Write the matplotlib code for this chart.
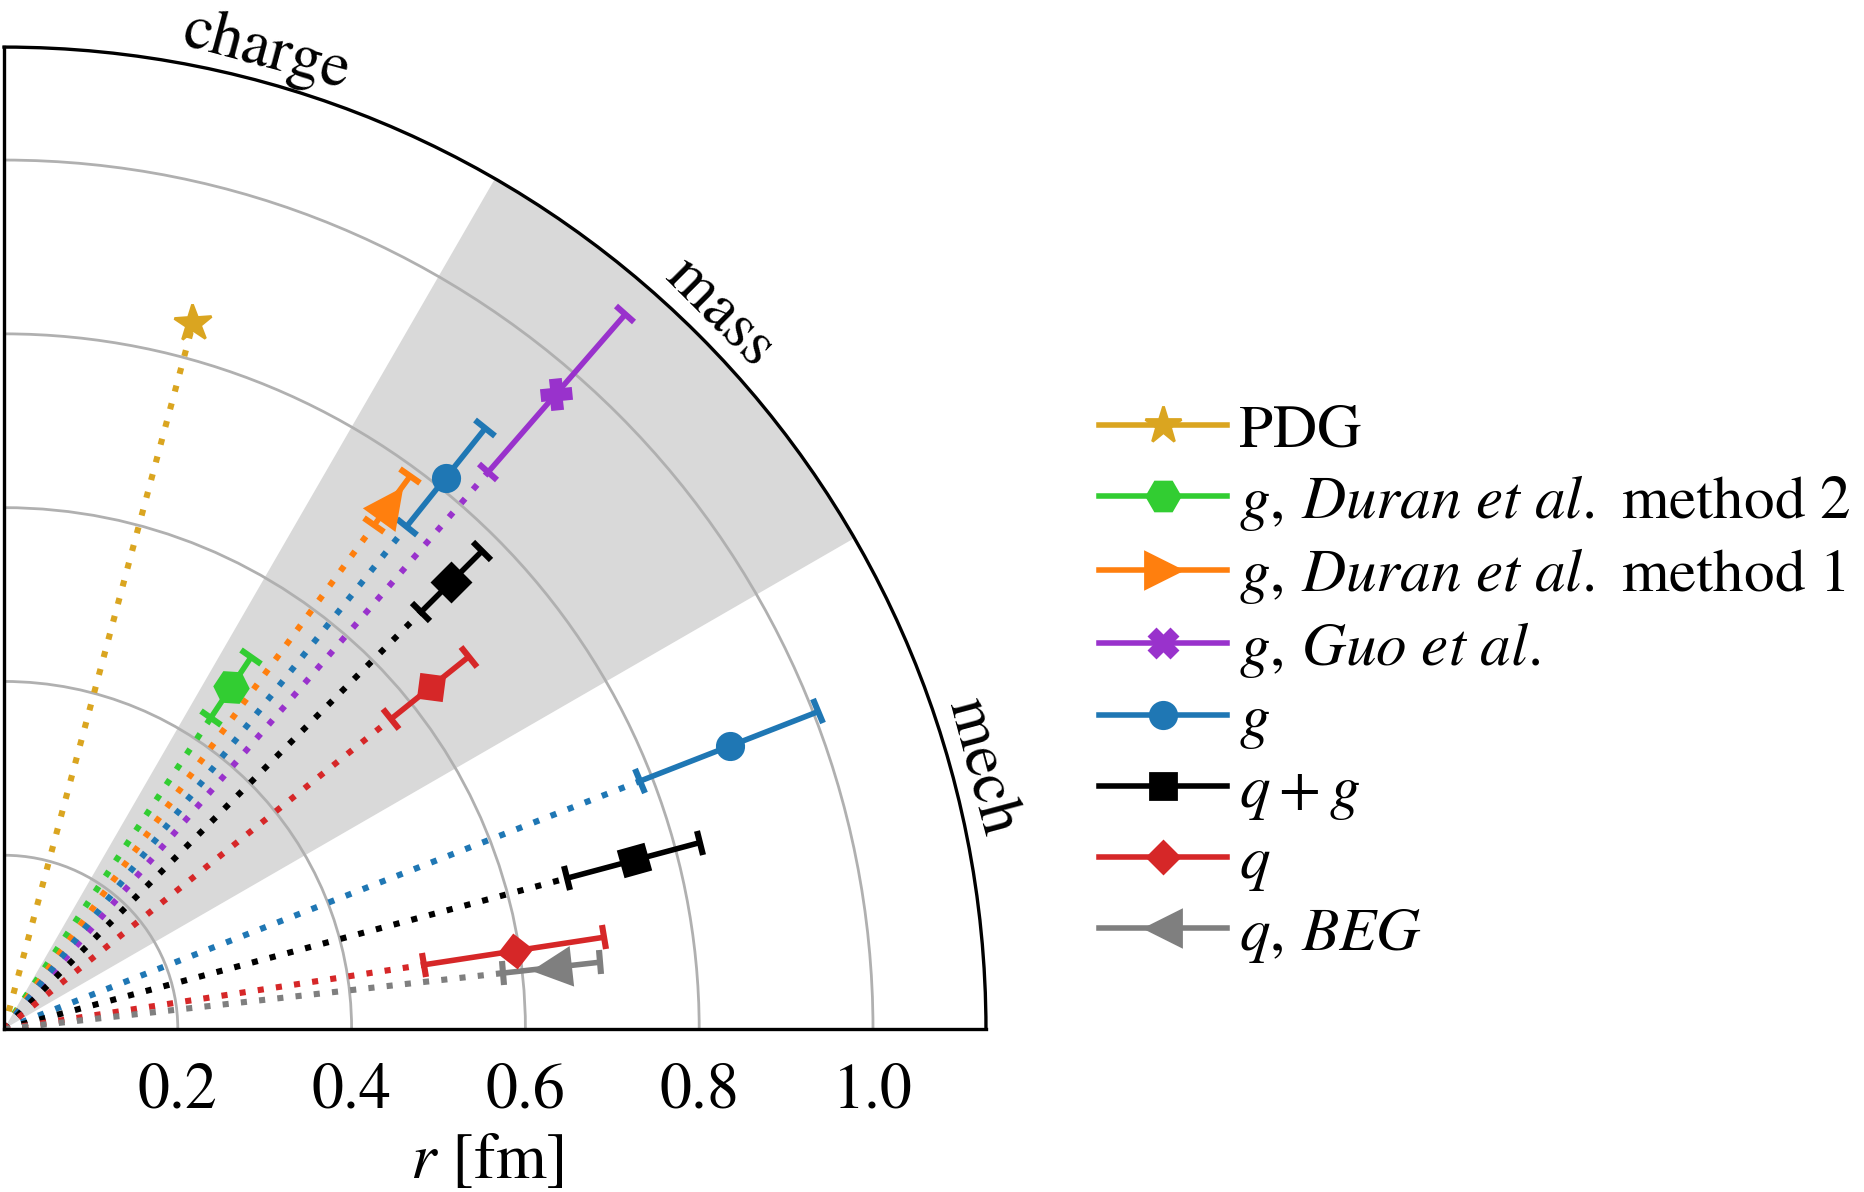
import numpy as np
import matplotlib
matplotlib.use("Agg")
import matplotlib.pyplot as plt
from matplotlib.lines import Line2D
from matplotlib.markers import MarkerStyle
from matplotlib.transforms import Affine2D

plt.rcParams["font.family"] = "serif"
plt.rcParams["font.serif"] = ["STIXGeneral", "Liberation Serif", "DejaVu Serif"]
plt.rcParams["mathtext.fontset"] = "stix"
plt.rcParams["font.size"] = 23

# Sectors of the quarter disc (degrees); the mass sector is shaded.
sector_names = ["mech", "mass", "charge"]
sector_lo = [0, 30, 60]
sector_hi = [30, 60, 90]
shaded_sector = "mass"

rticks = [0.2, 0.4, 0.6, 0.8, 1.0]
rmax = 1.13

# Radii in fm, one entry per extraction; angles place each point inside its sector.
labels = ["PDG",
          r"$g,\,Duran\ et\ al.$ method 2",
          r"$g,\,Duran\ et\ al.$ method 1",
          r"$g,\,Guo\ et\ al.$",
          r"$g$",
          r"$q+g$",
          r"$q$",
          r"$q,\,BEG$"]
colors = ["goldenrod", "limegreen", "tab:orange", "darkorchid",
          "tab:blue", "black", "tab:red", "tab:gray"]
markers = ["*", "H", ">", "X", "o", "s", "D", "<"]
sizes = [14, 12, 13, 10, 9.5, 9.5, 8.3, 13]
angles = [[75.0], [56.4], [53.7], [49.0], [51.3, 21.3], [45.0, 15.0], [38.7, 8.7], [6.4]]
radii = [[0.8409], [0.473], [0.750], [0.969], [0.813, 0.897], [0.727, 0.751], [0.629, 0.595], [0.635]]
err_lo = [[0.0], [0.043], [0.030], [0.120], [0.072, 0.111], [0.048, 0.080], [0.059, 0.106], [0.057]]
err_hi = [[0.0], [0.041], [0.040], [0.121], [0.073, 0.109], [0.051, 0.078], [0.056, 0.104], [0.055]]

fig = plt.figure(figsize=(9.32, 5.96), dpi=200)
ax = fig.add_axes([0.00215, 0.1367, 0.5268, 0.8238], projection="polar")
ax.set_thetamin(0)
ax.set_thetamax(90)
ax.set_rlim(0, rmax)

i = sector_names.index(shaded_sector)
lo, hi = np.deg2rad(sector_lo[i]), np.deg2rad(sector_hi[i])
ax.bar((lo + hi) / 2, rmax, width=hi - lo, bottom=0, color="#d9d9d9",
       linewidth=0, zorder=0.5)

handles = []
for lab, c, m, ms, th, rr, el, eh in zip(labels, colors, markers, sizes,
                                         angles, radii, err_lo, err_hi):
    for deg, r, a, b in zip(th, rr, el, eh):
        t = np.deg2rad(deg)
        ax.plot([t, t], [0, r - a], linestyle=(0, (1, 2.0)), lw=2.2,
                color=c, zorder=2)
        if a > 0 or b > 0:
            ax.errorbar(t, r, yerr=[[a], [b]], fmt="none", ecolor=c,
                        elinewidth=2.0, capsize=4.5, capthick=2.2, zorder=3)
        mk = MarkerStyle(m, transform=Affine2D().rotate_deg(deg))
        ax.plot(t, r, linestyle="none", marker=mk, ms=ms, color=c, zorder=4)
    handles.append(Line2D([], [], color=c, marker=m, ms=ms, lw=2.0))

ax.set_xticks([])
ax.set_rticks(rticks)
ax.yaxis.grid(True, color="#b0b0b0", lw=1.0)
ax.tick_params(axis="y", length=0, pad=12, labelsize=23)
for s in ax.spines.values():
    s.set_linewidth(1.2)

for name, a, b in zip(sector_names, sector_lo, sector_hi):
    mid = (a + b) / 2
    ax.text(np.deg2rad(mid), 1.165, name, rotation=mid - 90, ha="center",
            va="center", rotation_mode="anchor", fontsize=23)

ax.text(0.492, -0.136, r"$r$ [fm]", transform=ax.transAxes,
        ha="center", va="center", fontsize=23.5)

ax.legend(handles, labels, loc="center left", bbox_to_anchor=(0.573, 0.426),
          bbox_transform=fig.transFigure, frameon=False, fontsize=22,
          handlelength=2.1, handletextpad=0.2, labelspacing=0.22, borderpad=0)

fig.savefig("out.png", dpi=200)
